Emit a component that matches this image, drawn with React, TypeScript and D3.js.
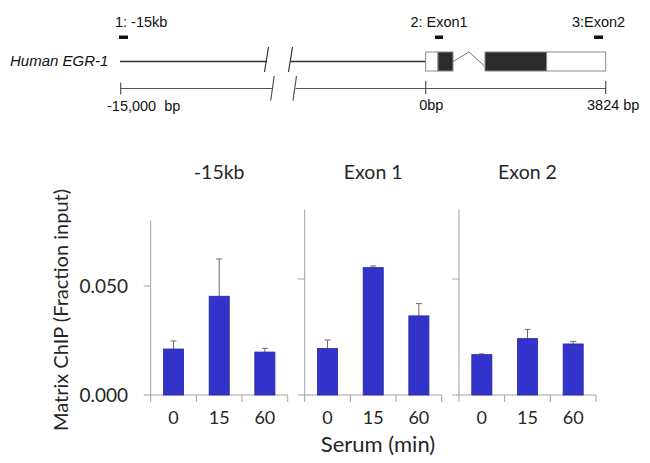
import React from "react";
import * as d3 from "d3";

// ---------- data ----------
const panelTitles = ["-15kb", "Exon 1", "Exon 2"];
const timeLabels = ["0", "15", "60"];
const meanNeg15kb = [0.0211, 0.0453, 0.0197];
const errNeg15kb = [0.0037, 0.0171, 0.0017];
const meanExon1 = [0.0201, 0.0549, 0.0341];
const errExon1 = [0.0036, 0.0007, 0.0053];
const meanExon2 = [0.0174, 0.0243, 0.022];
const errExon2 = [0.0003, 0.004, 0.0011];
const yTickValues = [0, 0.05];
const yTickLabels = ["0.000", "0.050"];
const yMax = 0.08;

// gene structure (bp, right of the axis break)
const geneLength = 3824;
const exonSegments = [
  { start: 0, end: 261, filled: false },
  { start: 261, end: 580, filled: true },
  { start: 1260, end: 2570, filled: true },
  { start: 2570, end: 3824, filled: false },
];
const primerBp = [
  { label: "2: Exon1", start: 198, end: 368 },
  { label: "3:Exon2", start: 3576, end: 3767 },
];

const means = [meanNeg15kb, meanExon1, meanExon2];
const errs = [errNeg15kb, errExon1, errExon2];

// ---------- layout ----------
const W = 650;
const H = 463;
const panelLeft = [150.7, 304.7, 459];
const panelWidth = 137;
const panelTop = [220.6, 209.4, 209.4];
const baseY = 395;
const axisColor = "#a3a3a3";
const barFill = "#3333cc";
const barStroke = "#2626a6";
const textColor = "#262626";
const chartFont = "Lato, 'Open Sans', sans-serif";
const diagramFont = "'Liberation Sans', Arial, sans-serif";
const dFs = 14.5;

function Panel({ i }: { i: number }) {
  const x = d3
    .scaleBand<string>()
    .domain(timeLabels)
    .range([panelLeft[i], panelLeft[i] + panelWidth])
    .paddingInner(0.56)
    .paddingOuter(0.28);
  const y = d3.scaleLinear().domain([0, yMax]).range([baseY, panelTop[i]]);
  const step = x.step();
  const left = panelLeft[i];
  const right = left + panelWidth;
  const boundaries = d3.range(timeLabels.length + 1).map((k) => left + k * step);
  return (
    <g>
      {/* y axis */}
      <line x1={left} x2={left} y1={y(yMax)} y2={baseY} stroke={axisColor} strokeWidth={1} />
      {yTickValues.map((v) => (
        <line key={v} x1={left - 7} x2={left} y1={y(v)} y2={y(v)} stroke={axisColor} strokeWidth={1} />
      ))}
      {/* x axis */}
      <line x1={left} x2={right} y1={baseY} y2={baseY} stroke={axisColor} strokeWidth={1} />
      {boundaries.map((bx, k) => (
        <line key={k} x1={bx} x2={bx} y1={baseY} y2={baseY + 7} stroke={axisColor} strokeWidth={1} />
      ))}
      {/* bars */}
      {timeLabels.map((t, k) => {
        const bx = x(t)!;
        const bw = x.bandwidth();
        const top = y(means[i][k]);
        const etop = y(means[i][k] + errs[i][k]);
        const cx = bx + bw / 2;
        return (
          <g key={t}>
            <line x1={cx} x2={cx} y1={top} y2={etop} stroke="#6b6b6b" strokeWidth={1} />
            <line x1={cx - 3} x2={cx + 3} y1={etop} y2={etop} stroke="#6b6b6b" strokeWidth={1} />
            <rect x={bx} y={top} width={bw} height={baseY - top} fill={barFill} stroke={barStroke} strokeWidth={0.8} />
          </g>
        );
      })}
      {/* tick labels */}
      {timeLabels.map((t) => (
        <text
          key={t}
          x={x(t)! + x.bandwidth() / 2}
          y={424}
          textAnchor="middle"
          fontFamily={chartFont}
          fontSize={18}
          fill={textColor}
        >
          {t}
        </text>
      ))}
      <text
        x={left + panelWidth / 2}
        y={179}
        textAnchor="middle"
        fontFamily={chartFont}
        fontSize={19.5}
        fill={textColor}
      >
        {panelTitles[i]}
      </text>
      {i === 0 &&
        yTickValues.map((v, k) => (
          <text
            key={v}
            x={128}
            y={y(v) + 6.8}
            textAnchor="end"
            fontFamily={chartFont}
            fontSize={19}
            fill={textColor}
          >
            {yTickLabels[k]}
          </text>
        ))}
    </g>
  );
}

function GeneDiagram() {
  const bp = d3.scaleLinear().domain([0, geneLength]).range([425.7, 605.7]);
  const boxTop = 52;
  const boxH = 19;
  const geneY = 61.5;
  const scaleY = 88.5;
  const lineC = "#333";
  const scaleC = "#555";
  return (
    <g>
      {/* probe labels */}
      <text x={115} y={27} fontFamily={diagramFont} fontSize={dFs} fill="#111">
        1: -15kb
      </text>
      <rect x={119} y={35.5} width={9} height={3.5} fill="#111" />
      {primerBp.map((p) => (
        <g key={p.label}>
          <text
            x={(bp(p.start) + bp(p.end)) / 2}
            y={27}
            textAnchor="middle"
            fontFamily={diagramFont}
            fontSize={dFs}
            fill="#111"
          >
            {p.label}
          </text>
          <rect x={bp(p.start)} y={35.5} width={bp(p.end) - bp(p.start)} height={3.5} fill="#111" />
        </g>
      ))}
      {/* gene label */}
      <text x={10} y={66} fontFamily={diagramFont} fontStyle="italic" fontSize={dFs + 0.5} fill="#111">
        Human EGR-1
      </text>
      {/* gene line with break */}
      <line x1={120} x2={267} y1={geneY} y2={geneY} stroke={lineC} strokeWidth={1.3} />
      <line x1={264.5} x2={268.5} y1={72} y2={47} stroke={lineC} strokeWidth={1.2} />
      <line x1={288.5} x2={292.5} y1={72} y2={47} stroke={lineC} strokeWidth={1.2} />
      <line x1={290.5} x2={bp(0)} y1={geneY} y2={geneY} stroke={lineC} strokeWidth={1.3} />
      {/* intron */}
      <polyline
        points={`${bp(580)},${geneY} ${bp(920)},${boxTop} ${bp(1260)},${geneY + 5}`}
        fill="none"
        stroke="#777"
        strokeWidth={1}
      />
      {/* exons */}
      {exonSegments.map((s, k) => (
        <rect
          key={k}
          x={bp(s.start)}
          y={boxTop}
          width={bp(s.end) - bp(s.start)}
          height={boxH}
          fill={s.filled ? "#2b2b2b" : "#fff"}
          stroke="#8a8a8a"
          strokeWidth={1}
        />
      ))}
      {/* scale line */}
      <line x1={120.7} x2={272.5} y1={scaleY} y2={scaleY} stroke={scaleC} strokeWidth={1} />
      <line x1={120.7} x2={120.7} y1={82.5} y2={94.5} stroke={scaleC} strokeWidth={1.2} />
      <line x1={270.7} x2={274.2} y1={100.5} y2={76} stroke={scaleC} strokeWidth={1.2} />
      <line x1={293} x2={296.5} y1={100.5} y2={76} stroke={scaleC} strokeWidth={1.2} />
      <line x1={295.5} x2={bp(geneLength)} y1={scaleY} y2={scaleY} stroke={scaleC} strokeWidth={1} />
      <line x1={bp(0)} x2={bp(0)} y1={81} y2={94} stroke={scaleC} strokeWidth={1.2} />
      <line x1={bp(geneLength)} x2={bp(geneLength)} y1={81} y2={94} stroke={scaleC} strokeWidth={1.2} />
      <text x={107} y={111} fontFamily={diagramFont} fontSize={dFs} fill="#111" style={{ whiteSpace: "pre" }}>
        {"-15,000  bp"}
      </text>
      <text x={bp(0) - 6.5} y={110} fontFamily={diagramFont} fontSize={dFs} fill="#111">
        0bp
      </text>
      <text x={587} y={110} fontFamily={diagramFont} fontSize={dFs} fill="#111">
        3824 bp
      </text>
    </g>
  );
}

export default function App() {
  return (
    <svg
      width={W}
      height={H}
      viewBox={`0 0 ${W} ${H}`}
      style={{ position: "absolute", left: 0, top: 0, background: "#fff" }}
    >
      <rect x={0} y={0} width={W} height={H} fill="#fff" />
      <GeneDiagram />
      {panelTitles.map((_, i) => (
        <Panel key={i} i={i} />
      ))}
      <text
        transform="translate(68,310) rotate(-90)"
        textAnchor="middle"
        fontFamily={chartFont}
        fontSize={20}
        fill={textColor}
      >
        Matrix ChIP (Fraction input)
      </text>
      <text x={378} y={452} textAnchor="middle" fontFamily={chartFont} fontSize={22} fill={textColor}>
        Serum (min)
      </text>
    </svg>
  );
}
